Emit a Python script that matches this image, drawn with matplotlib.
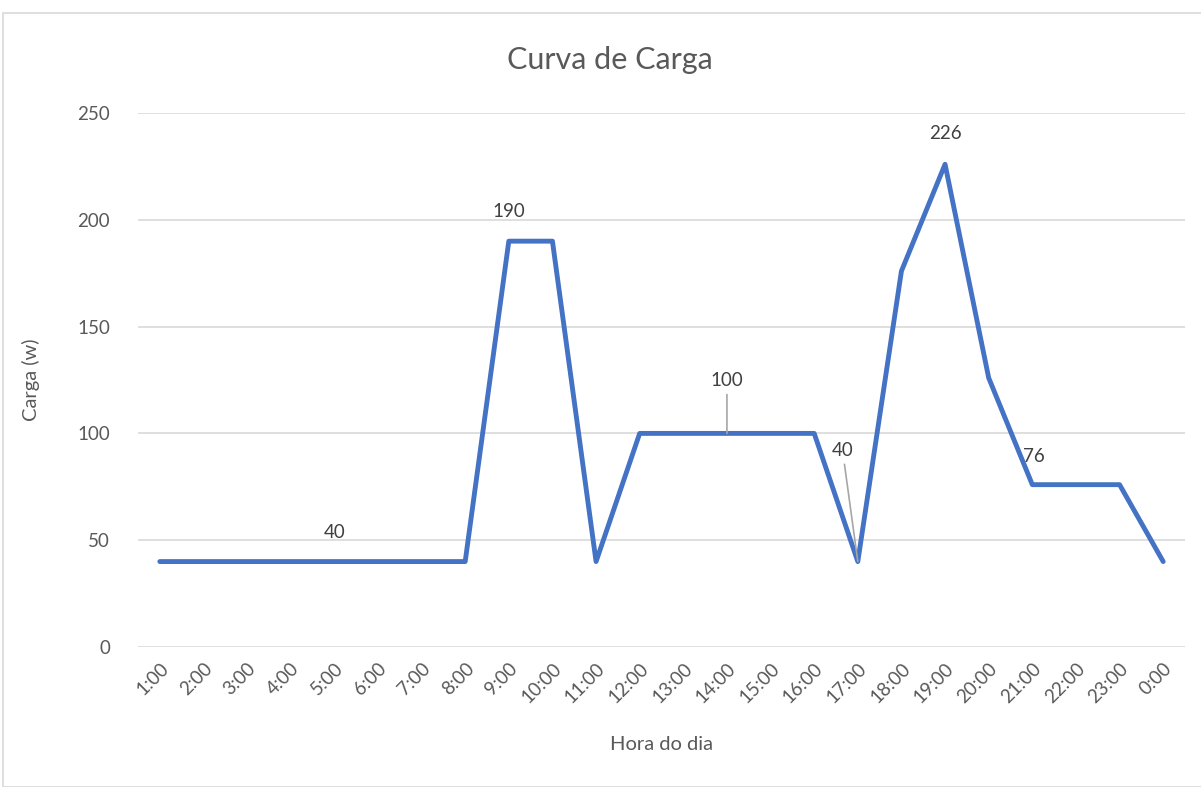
import matplotlib
matplotlib.use("Agg")
import matplotlib.pyplot as plt
from matplotlib.patches import Rectangle

plt.rcParams['font.family'] = ['Lato', 'DejaVu Sans']

hours = ["1:00", "2:00", "3:00", "4:00", "5:00", "6:00", "7:00", "8:00",
         "9:00", "10:00", "11:00", "12:00", "13:00", "14:00", "15:00", "16:00",
         "17:00", "18:00", "19:00", "20:00", "21:00", "22:00", "23:00", "0:00"]
carga = [40, 40, 40, 40, 40, 40, 40, 40,
         190, 190, 40, 100, 100, 100, 100, 100,
         40, 176, 226, 126, 76, 76, 76, 40]
yticks = [0, 50, 100, 150, 200, 250]

# (index, offset in points, leader line)
labels = [(4, (0, 15), False), (8, (0, 15), False), (13, (0, 32), True),
          (16, (-11, 74), True), (18, (0, 16), False), (20, (1, 14), False)]

text_col = "#595959"
W, H = 1201, 787
fig = plt.figure(figsize=(W / 100, H / 100), dpi=100)
fig.patches.append(Rectangle((3 / W, 0), 1, 1 - 13 / H, transform=fig.transFigure,
                             fill=False, edgecolor="#d9d9d9", linewidth=1.2))

ax = fig.add_axes([138 / W, 1 - 647 / H, (1185 - 138) / W, (647 - 113) / H])
x = list(range(len(hours)))
ax.plot(x, carga, color="#4472C4", linewidth=3.5, solid_joinstyle="round",
        solid_capstyle="round", zorder=3)

ax.set_xlim(-0.5, len(hours) - 0.5)
ax.set_ylim(0, 250)
ax.set_yticks(yticks)
ax.set_xticks(x)
ax.set_xticklabels(hours, rotation=45, ha="right", rotation_mode="anchor")
ax.tick_params(axis="both", length=0, labelsize=13.5, colors=text_col)
ax.tick_params(axis="y", pad=20)
ax.tick_params(axis="x", pad=9)
ax.grid(axis="y", color="#d9d9d9", linewidth=1.2)
ax.set_axisbelow(True)
for s in ax.spines.values():
    s.set_visible(False)

fig.text(610 / W, 1 - 60 / H, "Curva de Carga", fontsize=22, color=text_col,
         ha="center", va="center")
ax.set_ylabel("Carga (w)", fontsize=14.5, color=text_col, labelpad=27)
ax.set_xlabel("Hora do dia", fontsize=14.5, color=text_col, labelpad=22)

for i, off, lead in labels:
    ap = dict(arrowstyle="-", color="#a6a6a6", lw=1.2, shrinkA=2, shrinkB=0) if lead else None
    ax.annotate(str(carga[i]), (x[i], carga[i]), xytext=off, textcoords="offset points",
                ha="center", va="bottom", fontsize=13.5, color="#404040",
                arrowprops=ap)

fig.savefig("out.png", dpi=100)
